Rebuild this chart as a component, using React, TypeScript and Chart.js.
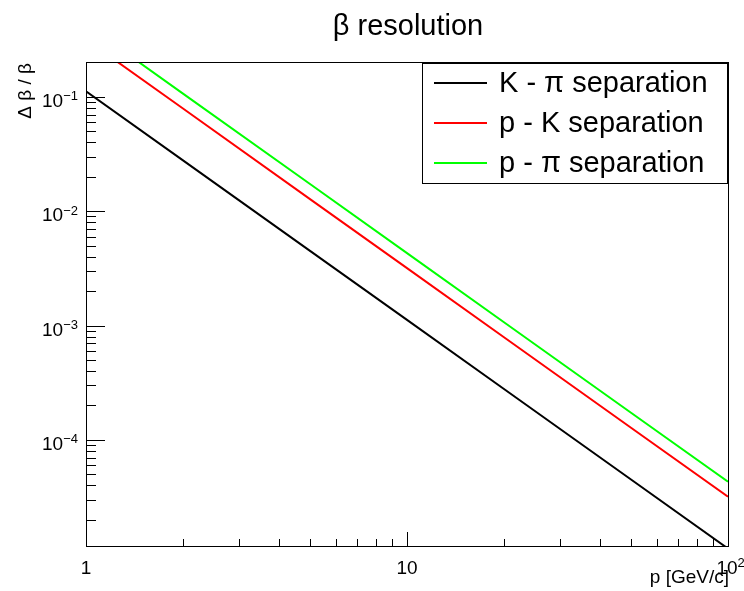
import { useEffect, useRef } from 'react';
import { Chart, registerables } from 'chart.js';

Chart.register(...registerables);

// momentum p [GeV/c]
const momentum = [1, 2, 5, 10, 20, 50, 100];
// Δβ/β values
const kPiSeparation = [0.112, 0.028, 0.00448, 0.00112, 0.00028, 0.0000448, 0.0000112];
const pKSeparation = [0.318, 0.0795, 0.0127, 0.00318, 0.000795, 0.000127, 0.0000318];
const pPiSeparation = [0.43, 0.1075, 0.0172, 0.0043, 0.001075, 0.000172, 0.000043];

const seriesLabels = ['K - π separation', 'p - K separation', 'p - π separation'];
const seriesColors = ['#000000', '#ff0000', '#00ff00'];

const xTickValues = [1, 10, 100];
const xTickBases = ['1', '10', '10'];
const xTickExps = ['', '', '2'];
const yTickValues = [1e-1, 1e-2, 1e-3, 1e-4];
const yTickBases = ['10', '10', '10', '10'];
const yTickExps = ['−1', '−2', '−3', '−4'];

const chartTitle = 'β resolution';
const xTitle = 'p [GeV/c]';
const yTitle = 'Δ β / β';

const FONT = '"Liberation Sans", Arial, Helvetica, sans-serif';

const rootPlugin = {
  id: 'rootStyle',
  afterDatasetsDraw(chart: any) {
    const ctx = chart.ctx as CanvasRenderingContext2D;
    const { left, right, top, bottom } = chart.chartArea;
    const xs = chart.scales.x;
    const ys = chart.scales.y;
    ctx.save();
    ctx.strokeStyle = '#000';
    ctx.lineWidth = 1;
    // frame
    ctx.strokeRect(Math.round(left) + 0.5, Math.round(top) + 0.5, Math.round(right - left), Math.round(bottom - top));

    // y ticks
    const yMin = ys.min, yMax = ys.max;
    ctx.beginPath();
    for (let d = -6; d <= 1; d++) {
      for (let k = 1; k <= 9; k++) {
        const v = k * Math.pow(10, d);
        if (v < yMin || v > yMax) continue;
        const py = Math.round(ys.getPixelForValue(v)) + 0.5;
        const len = k === 1 ? 19 : 10;
        ctx.moveTo(left, py);
        ctx.lineTo(left + len, py);
      }
    }
    // x ticks
    const xMin = xs.min, xMax = xs.max;
    for (let d = 0; d <= 2; d++) {
      for (let k = 1; k <= 9; k++) {
        const v = k * Math.pow(10, d);
        if (v < xMin || v > xMax) continue;
        const px = Math.round(xs.getPixelForValue(v)) + 0.5;
        const len = k === 1 ? 14 : 7;
        ctx.moveTo(px, bottom);
        ctx.lineTo(px, bottom - len);
      }
    }
    ctx.stroke();

    ctx.fillStyle = '#000';
    // y labels
    yTickValues.forEach((v, i) => {
      const py = ys.getPixelForValue(v);
      ctx.font = `13px ${FONT}`;
      const ew = ctx.measureText(yTickExps[i]).width;
      ctx.textAlign = 'right';
      ctx.textBaseline = 'alphabetic';
      ctx.fillText(yTickExps[i], left - 8, py + 3.5);
      ctx.font = `19px ${FONT}`;
      ctx.fillText(yTickBases[i], left - 8 - ew, py + 10);
    });
    // x labels
    xTickValues.forEach((v, i) => {
      const px = xs.getPixelForValue(v);
      ctx.font = `19px ${FONT}`;
      ctx.textAlign = 'center';
      ctx.textBaseline = 'alphabetic';
      const bw = ctx.measureText(xTickBases[i]).width;
      const cx = xTickExps[i] ? px - 1 : px;
      ctx.fillText(xTickBases[i], cx, bottom + 28);
      if (xTickExps[i]) {
        ctx.font = `13px ${FONT}`;
        ctx.textAlign = 'left';
        ctx.fillText(xTickExps[i], cx + bw / 2, bottom + 21);
      }
    });

    // axis titles
    ctx.font = `19px ${FONT}`;
    ctx.textAlign = 'right';
    ctx.textBaseline = 'alphabetic';
    ctx.fillText(xTitle, right + 1, bottom + 37);
    ctx.save();
    ctx.translate(31, top + 1);
    ctx.rotate(-Math.PI / 2);
    ctx.textAlign = 'right';
    ctx.fillText(yTitle, 0, 0);
    ctx.restore();

    // title
    ctx.font = `29px ${FONT}`;
    ctx.textAlign = 'center';
    ctx.fillText(chartTitle, (left + right) / 2 + 1, 35);

    // legend
    const lx = 422, ly = 63, lw = 305, lh = 120;
    ctx.fillStyle = '#fff';
    ctx.fillRect(lx, ly, lw, lh);
    ctx.strokeStyle = '#000';
    ctx.lineWidth = 1;
    ctx.strokeRect(lx + 0.5, ly + 0.5, lw, lh);
    const rowY = [83, 123, 163];
    seriesLabels.forEach((lab, i) => {
      ctx.strokeStyle = seriesColors[i];
      ctx.lineWidth = 2;
      ctx.beginPath();
      ctx.moveTo(434, rowY[i]);
      ctx.lineTo(487, rowY[i]);
      ctx.stroke();
      ctx.fillStyle = '#000';
      ctx.font = `29px ${FONT}`;
      ctx.textAlign = 'left';
      ctx.textBaseline = 'alphabetic';
      ctx.fillText(lab, 499, rowY[i] + 8.5);
    });
    ctx.restore();
  },
};

export default function App() {
  const ref = useRef<HTMLCanvasElement | null>(null);
  useEffect(() => {
    document.body.style.margin = '0';
    const canvas = ref.current;
    if (!canvas) return;
    const series = [kPiSeparation, pKSeparation, pPiSeparation];
    const chart = new Chart(canvas, {
      type: 'line',
      data: {
        datasets: series.map((vals, i) => ({
          label: seriesLabels[i],
          data: momentum.map((p, j) => ({ x: p, y: vals[j] })),
          borderColor: seriesColors[i],
          backgroundColor: seriesColors[i],
          borderWidth: 2,
          pointRadius: 0,
          tension: 0,
          fill: false,
        })),
      },
      options: {
        responsive: false,
        animation: false,
        devicePixelRatio: 1,
        layout: { padding: { left: 86, top: 62, right: 16, bottom: 45 } },
        plugins: { legend: { display: false }, title: { display: false }, tooltip: { enabled: false } },
        events: [],
        scales: {
          x: { type: 'logarithmic', min: 1, max: 100, display: false },
          y: { type: 'logarithmic', min: 1.18e-5, max: 0.202, display: false },
        },
      },
      plugins: [rootPlugin],
    });
    return () => chart.destroy();
  }, []);
  return (
    <div style={{ width: 744, height: 591, background: '#fff' }}>
      <canvas ref={ref} width={744} height={591} style={{ display: 'block' }} />
    </div>
  );
}
